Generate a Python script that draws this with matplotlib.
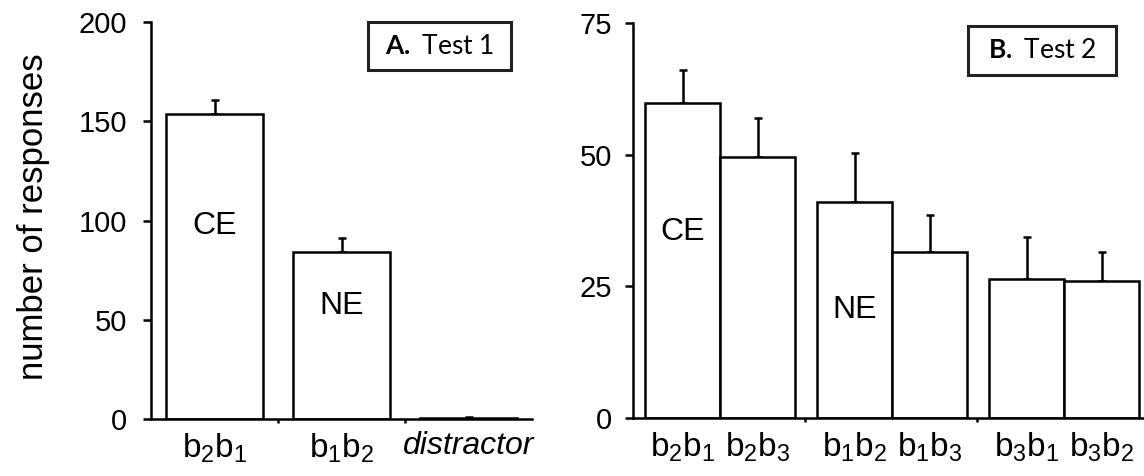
import numpy as np
import matplotlib
matplotlib.use("Agg")
import matplotlib.pyplot as plt
from matplotlib.patches import Rectangle

plt.rcParams['font.family'] = ['Liberation Sans', 'DejaVu Sans']
plt.rcParams['mathtext.fontset'] = 'custom'
plt.rcParams['mathtext.rm'] = 'Lato'
plt.rcParams['mathtext.bf'] = 'Lato:bold'

# Test 1 data
test1_labels = [r'$\mathregular{b_2b_1}$', r'$\mathregular{b_1b_2}$', 'distractor']
test1_means = [153.5, 84.0, 0.5]
test1_err = [7.0, 7.0, 0.5]

# Test 2 data (three pairs)
test2_labels = [r'$\mathregular{b_2b_1}$', r'$\mathregular{b_2b_3}$',
                r'$\mathregular{b_1b_2}$', r'$\mathregular{b_1b_3}$',
                r'$\mathregular{b_3b_1}$', r'$\mathregular{b_3b_2}$']
test2_means = [59.8, 49.5, 41.1, 31.6, 26.4, 26.1]
test2_err = [6.3, 7.5, 9.3, 6.9, 8.0, 5.4]

W, H = 1144, 476
fig = plt.figure(figsize=(W / 100, H / 100), dpi=100)
fig.patch.set_facecolor('white')

LW = 1.8


def style_axis(ax, ymax, yticks, pad):
    for s in ['top', 'right']:
        ax.spines[s].set_visible(False)
    for s in ['left', 'bottom']:
        ax.spines[s].set_linewidth(LW)
    ax.set_ylim(0, ymax)
    ax.set_xlim(0, 3)
    ax.set_yticks(yticks)
    ax.tick_params(axis='y', direction='out', length=6, width=LW, labelsize=21, pad=pad)
    ax.tick_params(axis='x', which='major', length=0, labelsize=24, pad=9)
    ax.set_xticks([1, 2], minor=True)
    ax.tick_params(axis='x', which='minor', direction='out', length=3, width=LW)


def add_box(ax, x0, y0, x1, y1, bold, rest):
    ax.add_patch(Rectangle((x0, y0), x1 - x0, y1 - y0, transform=ax.transAxes,
                           fill=False, edgecolor='#222222', linewidth=2.2, clip_on=False))
    ax.text((x0 + x1) / 2, (y0 + y1) / 2, r'$\mathbf{' + bold + '}$' + rest,
            transform=ax.transAxes, ha='center', va='center', fontsize=19, family='Lato')


# panel A
ax1 = fig.add_axes([151 / W, 1 - 419 / H, 381 / W, 397 / H])
x1 = np.arange(len(test1_means)) + 0.5
ax1.bar(x1, test1_means, width=0.76, color='white', edgecolor='black', linewidth=LW, zorder=2)
ax1.errorbar(x1, test1_means, yerr=[np.zeros(3), test1_err], fmt='none', ecolor='black',
             elinewidth=LW, capsize=3, capthick=LW, zorder=1)
style_axis(ax1, 200, [0, 50, 100, 150, 200], 11)
ax1.set_xticks(x1)
ax1.set_xticklabels(test1_labels)
ax1.get_xticklabels()[2].set_fontstyle('italic')
ax1.get_xticklabels()[2].set_fontsize(23)
ax1.text(x1[0], 97, 'CE', ha='center', va='center', fontsize=23)
ax1.text(x1[1], 57, 'NE', ha='center', va='center', fontsize=23)
add_box(ax1, 0.570, 0.879, 0.945, 1.0, 'A.', ' Test 1')
fig.text(0.029, 0.544, 'number of responses', rotation=90, ha='center', va='center', fontsize=25)

# panel B
ax2 = fig.add_axes([633 / W, 1 - 418 / H, 516 / W, 395 / H])
groups = np.repeat(np.arange(3), 2)
x2 = groups + 0.506 + np.tile([-0.218, 0.218], 3)
ax2.bar(x2, test2_means, width=0.436, color='white', edgecolor='black', linewidth=LW, zorder=2)
ax2.errorbar(x2, test2_means, yerr=[np.zeros(6), test2_err], fmt='none', ecolor='black',
             elinewidth=LW, capsize=3, capthick=LW, zorder=1)
style_axis(ax2, 75, [0, 25, 50, 75], 9)
ax2.set_xticks(x2)
ax2.set_xticklabels(test2_labels)
ax2.text(x2[0], 35.3, 'CE', ha='center', va='center', fontsize=23)
ax2.text(x2[2], 20.5, 'NE', ha='center', va='center', fontsize=23)
add_box(ax2, 0.649, 0.868, 0.936, 0.992, 'B.', ' Test 2')

fig.savefig('out.png', dpi=100, facecolor='white')
